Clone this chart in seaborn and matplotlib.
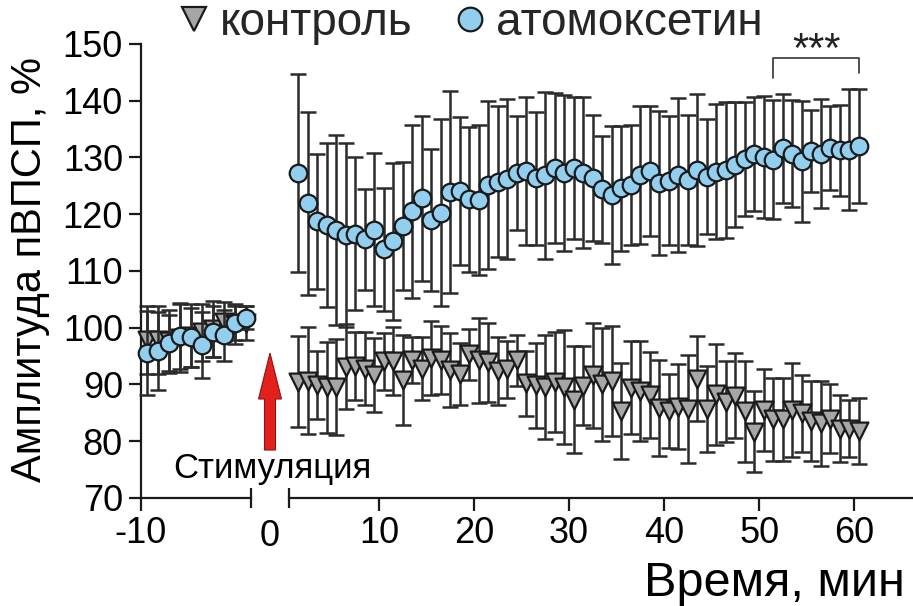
import numpy as np
import pandas as pd
import matplotlib
matplotlib.use("Agg")
import matplotlib.pyplot as plt
from matplotlib.lines import Line2D
from matplotlib.patches import FancyArrow
import seaborn as sns

# ---- data: fEPSP amplitude (% of baseline), mean ± SEM ----
groups = ["контроль", "атомоксетин"]

# baseline, minutes before stimulation (bin centres)
time_pre = [-9.5, -8.5, -7.5, -6.5, -5.5, -4.5, -3.5, -2.5, -1.5, -0.5]
ctrl_pre = [97.9, 97.8, 97.6, 98.2, 98.6, 99.2, 99.8, 101.1, 100.6, 100.9]
ctrl_pre_err = [6.0, 6.0, 5.5, 6.0, 5.5, 5.0, 5.0, 3.5, 3.5, 3.0]
atx_pre = [95.6, 95.9, 97.3, 98.6, 98.3, 97.0, 99.3, 98.7, 100.8, 101.8]
atx_pre_err = [7.4, 6.8, 5.0, 5.8, 5.2, 5.8, 4.5, 4.5, 3.0, 2.0]

# after stimulation, 1-min bins
time_post = np.arange(1.5, 61.0, 1.0)
ctrl_post = [90.5, 90.7, 89.9, 89.5, 89.6, 93.1, 93.3, 92.8, 91.7, 94.1,
             94.1, 90.8, 94.3, 92.8, 94.7, 94.3, 92.6, 91.8, 95.3, 94.3,
             93.9, 92.4, 92.7, 94.3, 90.2, 89.9, 89.6, 90.4, 89.6, 87.3,
             89.8, 91.6, 90.0, 90.6, 85.3, 89.4, 88.9, 88.2, 85.9, 85.3,
             86.1, 85.7, 91.0, 85.7, 88.3, 87.0, 88.0, 85.3, 81.7, 85.5,
             83.9, 83.9, 85.5, 84.9, 83.6, 83.2, 84.0, 82.2, 82.2, 81.8]
ctrl_post_err = [8.0, 9.5, 6.0, 8.0, 8.5, 7.5, 6.0, 6.5, 6.5, 5.0,
                 6.0, 8.0, 4.0, 5.5, 6.5, 6.0, 6.5, 5.5, 4.5, 7.5,
                 7.0, 6.0, 5.0, 4.5, 5.7, 7.5, 9.2, 8.8, 10.0, 9.4,
                 7.0, 9.3, 10.0, 9.7, 8.5, 8.2, 8.8, 7.6, 8.5, 6.5,
                 7.5, 9.5, 7.5, 7.6, 8.9, 7.2, 7.5, 8.9, 7.2, 7.2,
                 7.3, 7.3, 8.3, 6.8, 7.0, 7.5, 6.1, 5.9, 5.0, 5.8]
atx_post = [127.3, 121.9, 118.8, 118.1, 117.2, 116.3, 116.6, 115.6, 117.3, 113.8,
            115.2, 117.9, 120.5, 122.8, 119.0, 120.3, 124.0, 124.1, 122.6, 122.5,
            125.2, 125.7, 126.2, 127.3, 127.6, 126.3, 126.9, 128.1, 127.3, 128.1,
            127.3, 126.4, 124.4, 123.4, 124.6, 125.2, 126.9, 127.6, 125.5, 125.9,
            126.9, 126.0, 127.8, 126.6, 127.5, 127.8, 128.7, 129.7, 130.6, 130.1,
            129.6, 131.6, 130.7, 129.3, 131.1, 130.7, 131.6, 131.3, 131.4, 132.0]
atx_post_err = [17.4, 16.2, 11.9, 14.4, 16.8, 16.2, 13.5, 8.9, 13.5, 10.8,
                13.8, 11.3, 15.2, 14.5, 12.5, 16.5, 17.8, 13.1, 12.8, 13.2,
                14.8, 13.3, 14.1, 10.0, 13.0, 11.8, 14.7, 13.2, 13.7, 12.5,
                13.3, 11.1, 9.4, 12.2, 11.0, 10.6, 12.1, 11.4, 12.7, 11.4,
                13.5, 11.5, 13.4, 10.1, 11.9, 11.9, 11.0, 10.0, 10.1, 10.7,
                10.5, 9.6, 9.4, 10.7, 7.2, 9.6, 7.4, 8.0, 10.6, 10.0]

y_ticks = [70, 80, 90, 100, 110, 120, 130, 140, 150]
x_ticks_post = [10, 20, 30, 40, 50, 60]
signif_span = (51.5, 60.5)

# ---- style ----
sns.set_style("ticks")
plt.rcParams["font.family"] = ["Liberation Sans", "DejaVu Sans"]
plt.rcParams["axes.unicode_minus"] = False
INK = "#1a1a1a"
BAR = "#2b2b2b"
style = {
    "контроль": dict(marker="v", color="#a6a6a6", s=165),
    "атомоксетин": dict(marker="o", color="#92cfee", s=160),
}

W, H = 913, 606
fig = plt.figure(figsize=(W / 100, H / 100), dpi=100)


def box(x0, y0, x1, y1):
    return [x0 / W, 1 - y1 / H, (x1 - x0) / W, (y1 - y0) / H]


ax_pre = fig.add_axes(box(141, 44, 251, 498))
ax_post = fig.add_axes(box(289, 44, 913, 498))

frames = {
    ax_pre: pd.DataFrame({
        "t": list(time_pre) * 2,
        "amp": ctrl_pre + atx_pre,
        "err": ctrl_pre_err + atx_pre_err,
        "group": [groups[0]] * len(time_pre) + [groups[1]] * len(time_pre),
    }),
    ax_post: pd.DataFrame({
        "t": list(time_post) * 2,
        "amp": ctrl_post + atx_post,
        "err": ctrl_post_err + atx_post_err,
        "group": [groups[0]] * len(time_post) + [groups[1]] * len(time_post),
    }),
}

for ax, df in frames.items():
    for i, g in enumerate(groups):
        d = df[df["group"] == g]
        ax.errorbar(d["t"], d["amp"], yerr=d["err"], fmt="none", ecolor=BAR,
                    elinewidth=1.8, capsize=5.8, capthick=1.8, zorder=2 + 2 * i,
                    clip_on=False)
        st = style[g]
        sns.scatterplot(data=d, x="t", y="amp", ax=ax, marker=st["marker"],
                        color=st["color"], s=st["s"], edgecolor=INK,
                        linewidth=1.6, zorder=3 + 2 * i, legend=False,
                        clip_on=False)
    ax.set_ylim(70, 150)
    ax.set_xlabel("")
    ax.set_ylabel("")
    ax.set_facecolor("none")
    for side in ("top", "right"):
        ax.spines[side].set_visible(False)
    for side in ("left", "bottom"):
        ax.spines[side].set_linewidth(1.6)
        ax.spines[side].set_color(INK)
    ax.tick_params(axis="both", direction="out", length=9, width=1.6,
                   color=INK, labelsize=26, pad=4, labelcolor="black")

ax_pre.set_xlim(-10, 0)
ax_pre.set_xticks([-10])
ax_pre.set_yticks(y_ticks)

ax_post.set_xlim(0.53, 66.2)
ax_post.set_xticks(x_ticks_post)
ax_post.spines["left"].set_visible(False)
ax_post.tick_params(axis="y", left=False, labelleft=False)

# axis-break marks at the ends of the two x segments
for ax, xa in ((ax_pre, 1.0), (ax_post, 0.0)):
    ax.plot([xa, xa], [-0.022, 0.022], transform=ax.transAxes, color=INK,
            lw=1.6, clip_on=False, solid_capstyle="butt")

# significance bracket over the last 10 minutes
bx0, bx1 = signif_span
ax_post.plot([bx0, bx0, bx1, bx1], [144.0, 147.6, 147.6, 144.9], color="#333333",
             lw=1.2, clip_on=False)
ax_post.text((bx0 + bx1) / 2, 145.3, "***", ha="center", va="bottom",
             fontsize=30, color="#222222", clip_on=False)

# overlay in pixel units for annotations
ov = fig.add_axes([0, 0, 1, 1], zorder=10)
ov.set_xlim(0, W)
ov.set_ylim(H, 0)
ov.axis("off")

ov.add_patch(FancyArrow(270, 450, 0, -97, width=11, head_width=23,
                        head_length=46, length_includes_head=True,
                        fc="#e3201b", ec="#8a1414", lw=0.8))
ov.text(173, 478, "Стимуляция", ha="left", va="baseline", fontsize=25,
        color="black")
ov.text(270, 519, "0", ha="center", va="top", fontsize=26, color="black")

fig.text(30 / W, 1 - 270 / H, "Амплитуда пВПСП, %", rotation=90,
         ha="center", va="center", fontsize=30, color="black")
fig.text(905 / W, 1 - 596 / H, "Время, мин", ha="right", va="baseline",
         fontsize=35, color="black")

handles = [
    Line2D([], [], ls="none", marker=style[g]["marker"], ms=17,
           mfc=style[g]["color"], mec=INK, mew=1.6, label=g)
    for g in groups
]
fig.legend(handles=handles, loc="center", bbox_to_anchor=(470 / W, 1 - 23 / H),
           ncol=2, frameon=False, fontsize=33, handlelength=0.7,
           handletextpad=0.22, columnspacing=0.9, borderpad=0,
           borderaxespad=0)

fig.savefig("out.png", dpi=100)
